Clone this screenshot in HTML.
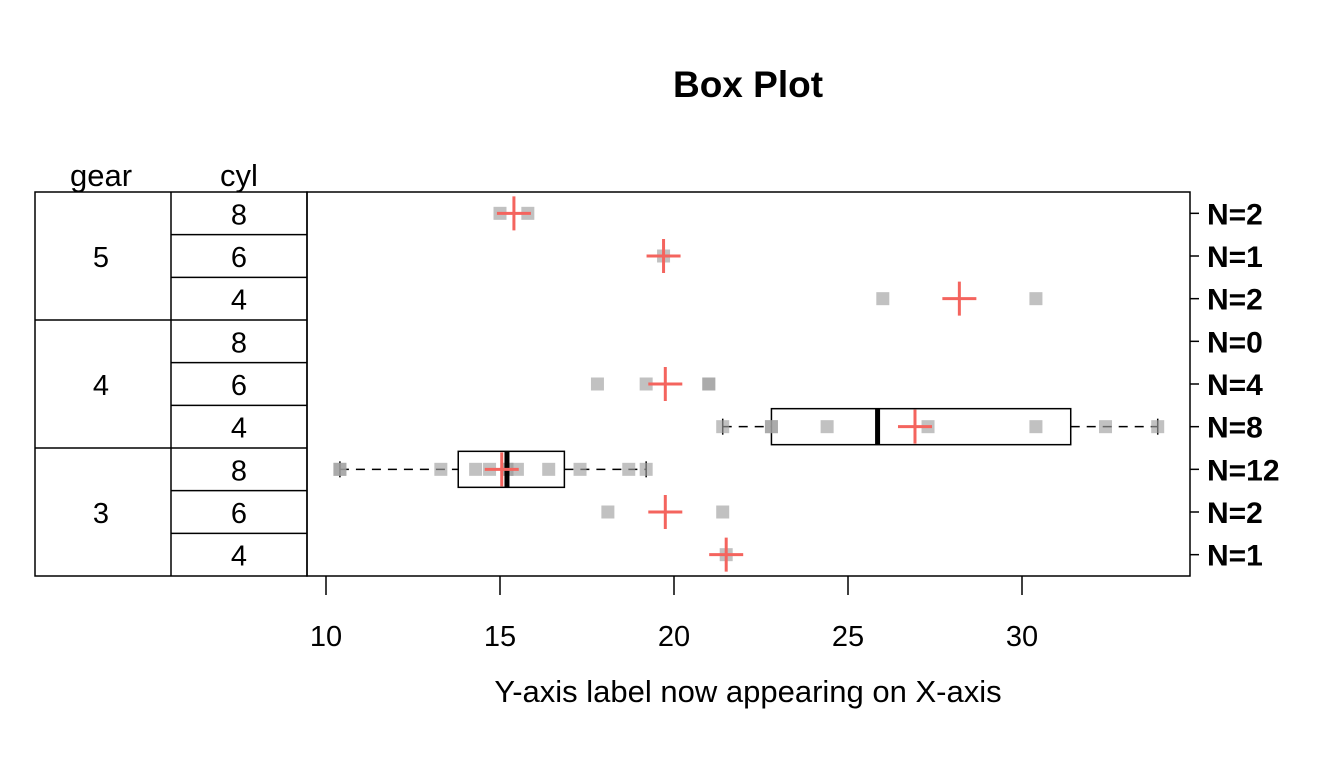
<!DOCTYPE html>
<html><head><meta charset="utf-8"><style>
body{margin:0;background:#fff;}
svg text{font-family:"Liberation Sans",Arial,sans-serif;}
</style></head><body>
<svg id="chart" width="1344" height="768" viewBox="0 0 1344 768">
<text x="748" y="97" font-size="37" font-weight="bold" text-anchor="middle">Box Plot</text>
<text x="101" y="186" font-size="31" text-anchor="middle">gear</text>
<text x="239" y="186" font-size="31" text-anchor="middle">cyl</text>
<text x="748" y="702" font-size="31" text-anchor="middle">Y-axis label now appearing on X-axis</text>
<g id="table"></g>
<g id="axis"></g>
<g id="marks"></g>
<rect x="307" y="192" width="883" height="384" fill="none" stroke="#000" stroke-width="1.5"/>
</svg>
<script>
const gears=[5,5,5,4,4,4,3,3,3];
const cyls=[8,6,4,8,6,4,8,6,4];
const values=[
 [15.8,15.0],
 [19.7],
 [26.0,30.4],
 [],
 [21.0,21.0,19.2,17.8],
 [22.8,24.4,22.8,32.4,30.4,33.9,27.3,21.4],
 [18.7,14.3,16.4,17.3,15.2,10.4,10.4,14.7,15.5,15.2,13.3,19.2],
 [21.4,18.1],
 [21.5]
];
const xTicks=[10,15,20,25,30];
const NS="http://www.w3.org/2000/svg";
const X0=307,X1=1190,Y0=192,Y1=576;
const x=v=>326+(v-10)*34.8;
const rowH=(Y1-Y0)/gears.length;
const yc=i=>Y0+rowH*(i+0.5);
function mk(tag,attrs,parent){const e=document.createElementNS(NS,tag);for(const k in attrs)e.setAttribute(k,attrs[k]);parent.appendChild(e);return e;}
const table=document.getElementById('table'),axis=document.getElementById('axis'),marks=document.getElementById('marks');
let el=mk('rect',{x:35,y:Y0,width:272,height:Y1-Y0,fill:'none',stroke:'#000','stroke-width':1.5},table);


el=mk('line',{x1:171,x2:171,y1:Y0,y2:Y1,stroke:'#000','stroke-width':1.5},table);


gears.forEach((g,i)=>{
 if(i>0){const full=gears[i]!==gears[i-1];
  el=mk('line',{x1:full?35:171,x2:307,y1:Y0+rowH*i,y2:Y0+rowH*i,stroke:'#000','stroke-width':1.5},table);
  
  }
 el=mk('text',{x:239,y:yc(i)+11,'font-size':29,'text-anchor':'middle'},table);el.textContent=cyls[i];
 
 
 if(i===0||gears[i]!==gears[i-1]){
  let n=gears.filter(v=>v===g).length;
  el=mk('text',{x:101,y:Y0+rowH*(i+n/2)+11,'font-size':29,'text-anchor':'middle'},table);el.textContent=g;
  
  
 }
 el=mk('line',{x1:X1,x2:X1+9,y1:yc(i),y2:yc(i),stroke:'#000','stroke-width':1.5},axis);
 
 
 el=mk('text',{x:1207,y:yc(i)+11,'font-size':30,'font-weight':'bold'},axis);el.textContent='N='+values[i].length;
 
 
});
xTicks.forEach(t=>{
 el=mk('line',{x1:x(t),x2:x(t),y1:Y1,y2:Y1+19,stroke:'#000','stroke-width':1.5},axis);
 
 
 el=mk('text',{x:x(t),y:646,'font-size':29,'text-anchor':'middle'},axis);el.textContent=t;
 
 
});
function fivenum(a){const s=[...a].sort((p,q)=>p-q),n=s.length;const n4=Math.floor((n+3)/2)/2;
 const d=[1,n4,(n+1)/2,n+1-n4,n];return d.map(v=>0.5*(s[Math.floor(v)-1]+s[Math.ceil(v)-1]));}
values.forEach((vals,i)=>{
 const y=yc(i);
 if(vals.length>=5){
  const f=fivenum(vals);
  el=mk('line',{x1:x(f[0]),x2:x(f[1]),y1:y,y2:y,stroke:'#000','stroke-width':1.5,'stroke-dasharray':'9,7'},marks);
  
  
  el=mk('line',{x1:x(f[3]),x2:x(f[4]),y1:y,y2:y,stroke:'#000','stroke-width':1.5,'stroke-dasharray':'9,7'},marks);
  
  
  [f[0],f[4]].forEach(v=>{el=mk('line',{x1:x(v),x2:x(v),y1:y-8,y2:y+8,stroke:'#000','stroke-width':1.5},marks);
   
   });
  el=mk('rect',{x:x(f[1]),y:y-18,width:x(f[3])-x(f[1]),height:36,fill:'none',stroke:'#000','stroke-width':1.5},marks);
  
  
 }
 vals.forEach(v=>{el=mk('rect',{x:x(v)-6.5,y:y-6.5,width:13,height:13,fill:'rgb(160,160,160)','fill-opacity':0.65},marks);
  
  });
 if(vals.length>=5){const f=fivenum(vals);
  el=mk('line',{x1:x(f[2]),x2:x(f[2]),y1:y-18,y2:y+18,stroke:'#000','stroke-width':5},marks);
  
  }
 if(vals.length){const m=vals.reduce((a,b)=>a+b,0)/vals.length;
  el=mk('path',{d:`M${x(m)-17},${y}H${x(m)+17}M${x(m)},${y-17}V${y+17}`,stroke:'#F4645E','stroke-width':3,fill:'none'},marks);
  
  }
});
</script>
</body></html>
